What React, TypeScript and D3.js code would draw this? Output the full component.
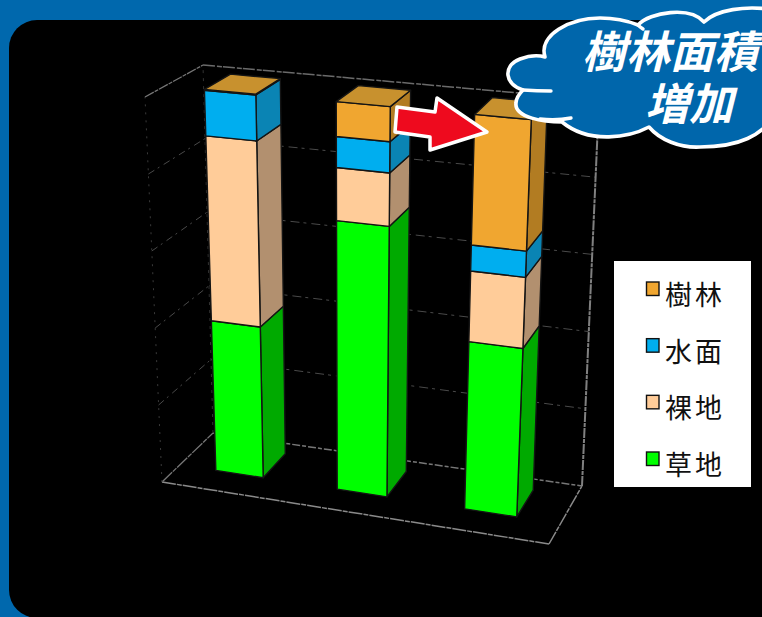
import React from "react";
import * as d3 from "d3";

// Land-cover share (%) for three survey periods, stacked bottom to top.
const periods = ["A", "B", "C"];
const grassland = [39.3, 69.3, 42.4];
const bareLand = [48.5, 13.7, 17.9];
const water = [12.0, 8.0, 6.6];
const forest = [0.2, 9.0, 33.1];
const valueTicks = [0, 20, 40, 60, 80, 100];

const legendNames = ["樹林", "水面", "裸地", "草地"];
const calloutLines = ["樹林面積の", "増加"];

const W = 762;
const H = 617;

type P = [number, number];

// Screen corners of the plot box: floor and ceiling, front and back.
const floorFL: P = [162, 482];
const floorFR: P = [549, 544];
const floorBL: P = [213, 433];
const floorBR: P = [582, 486];
const topFL: P = [145, 97];
const topFR: P = [568, 137];
const topBL: P = [203, 65];
const topBR: P = [599, 100];

const mix = (a: P, b: P, t: number): P => [a[0] + (b[0] - a[0]) * t, a[1] + (b[1] - a[1]) * t];

// Foreshortening along the width: columns further right read slightly wider.
const widen = (u: number) => u * (0.927 + 0.073 * u);

// u runs left to right, v front to back, w is height from 0 to 1.
const project = (rawU: number, v: number, w: number): P => {
  const u = widen(rawU);
  const lower = mix(mix(floorFL, floorFR, u), mix(floorBL, floorBR, u), v);
  const upper = mix(mix(topFL, topFR, u), mix(topBL, topBR, u), v);
  return mix(lower, upper, w);
};

const uScale = d3.scaleBand<string>().domain(periods).range([0.1012, 0.892]).paddingInner(0.604);
const wScale = d3.scaleLinear().domain([0, 100]).range([0, 1]);
const depthFront = 0.35;
const depthBack = 0.82;

const rows = periods.map((p, i) => ({
  period: p,
  grass: grassland[i],
  bare: bareLand[i],
  water: water[i],
  forest: forest[i],
}));
const seriesKeys = ["grass", "bare", "water", "forest"];
const stacked = d3.stack<any>().keys(seriesKeys)(rows);

const faceColors: Record<string, { front: string; side: string }> = {
  forest: { front: "#F0A630", side: "#B27C22" },
  water: { front: "#00AEEF", side: "#0A84B4" },
  bare: { front: "#FFCC99", side: "#B2906F" },
  grass: { front: "#00FF00", side: "#00AA00" },
};
const forestTop = "#C8912E";
const legendKeys = ["forest", "water", "bare", "grass"];

const closed = d3.line<P>().curve(d3.curveLinearClosed);
const open = d3.line<P>();

const Grid = () => {
  const lines: React.ReactNode[] = [];
  valueTicks.forEach((t) => {
    const w = wScale(t);
    if (t !== 0 && t !== 100) {
      lines.push(
        <path key={`b${t}`} d={open([project(0, 1, w), project(1, 1, w)])!} stroke="#4a4a4a" strokeWidth={1} strokeDasharray="9 4 3 5" fill="none" />,
        <path key={`l${t}`} d={open([project(0, 0, w), project(0, 1, w)])!} stroke="#4a4a4a" strokeWidth={1} strokeDasharray="7 4 2 5" fill="none" />
      );
    }
  });
  const frame = (k: string, a: P, b: P, color: string, width: number, dash?: string) => (
    <path key={k} d={open([a, b])!} stroke={color} strokeWidth={width} strokeDasharray={dash} fill="none" />
  );
  return (
    <g>
      {lines}
      {frame("f1", floorFL, floorFR, "#8a8a8a", 1.5, "14 1 5 1")}
      {frame("f2", floorFR, floorBR, "#8a8a8a", 1.5, "14 1 5 1")}
      {frame("f3", floorFL, floorBL, "#777", 1.3, "14 1 5 1")}
      {frame("f4", floorBL, floorBR, "#777", 1.5, "8 2 4 2")}
      {frame("t1", topBL, topBR, "#6a6a6a", 1.5, "12 2 5 1")}
      {frame("t2", topFL, topBL, "#777", 1.3, "10 1 4 1")}
      {frame("v1", floorBR, topBR, "#808080", 2, "10 1 4 1")}
      {frame("v2", floorBL, topBL, "#333", 1, "3 5")}
      {frame("v3", floorFL, topFL, "#3a3a3a", 1, "2 6")}
    </g>
  );
};

const Bars = () => (
  <g strokeLinejoin="round">
    {periods.map((p) => {
      const u0 = uScale(p)!;
      const u1 = u0 + uScale.bandwidth();
      return (
        <g key={p}>
          {stacked.map((layer, si) => {
            const [lo, hi] = layer[periods.indexOf(p)];
            const w0 = wScale(lo);
            const w1 = wScale(hi);
            const c = faceColors[layer.key];
            return (
              <g key={layer.key} stroke="#141414" strokeWidth={1.4}>
                <path
                  d={closed([project(u1, depthFront, w0), project(u1, depthBack, w0), project(u1, depthBack, w1), project(u1, depthFront, w1)])!}
                  fill={c.side}
                />
                <path
                  d={closed([project(u0, depthFront, w0), project(u1, depthFront, w0), project(u1, depthFront, w1), project(u0, depthFront, w1)])!}
                  fill={c.front}
                />
                {si === stacked.length - 1 && (
                  <path
                    d={closed([project(u0, depthFront, w1), project(u1, depthFront, w1), project(u1, depthBack, w1), project(u0, depthBack, w1)])!}
                    fill={forestTop}
                  />
                )}
              </g>
            );
          })}
        </g>
      );
    })}
  </g>
);

const Legend = () => {
  const rowY = d3.scalePoint<string>().domain(legendKeys).range([289, 459]);
  return (
    <g>
      <rect x={614} y={261} width={137} height={226} fill="#fff" />
      {legendKeys.map((k, i) => (
        <g key={k}>
          <rect x={646.5} y={rowY(k)! - 7} width={12.5} height={13.5} fill={faceColors[k].front} stroke="#111" strokeWidth={1.4} />
          <text
            x={665}
            y={rowY(k)! + 16}
            fontFamily="'Noto Sans CJK JP'"
            fontSize={27}
            letterSpacing={3}
            fill="#111"
          >
            {legendNames[i]}
          </text>
        </g>
      ))}
    </g>
  );
};

const Arrow = () => (
  <path
    d="M397 107 L435 112 L437 98 L487 132 L430 150 L430 137 L395 132 Z"
    fill="#EE0A1E"
    stroke="#fff"
    strokeWidth={3.5}
    strokeLinejoin="round"
  />
);

const Callout = () => {
  const outline =
    "M545 57 C538 35 570 18 600 18 C615 18 628 21 638 25 C650 12 690 6 704 22 C716 10 745 5 775 10 L775 115 C762 135 740 147 700 147 C680 148 660 140 649 127 C630 137 590 145 562 122 C545 122 514 118 516 103 C516 98 519 94 523 90 C505 85 502 66 520 59 C528 56 538 55 545 57 Z";
  return (
    <g>
      <path d={outline} fill="#0066AB" stroke="#fff" strokeWidth={3.6} strokeLinejoin="round" />
      <g stroke="#fff" strokeWidth={3.4} fill="none" strokeLinecap="round">
        <path d="M523 90 Q537 91 551 91" />
        <path d="M540 119 Q556 121 571 118" />
        <path d="M638 25 Q640 27 643 29" />
      </g>
      <g fontFamily="'Noto Sans CJK JP'" fontWeight={700} fontStyle="italic" fontSize={44} fill="#fff">
        <text x={582} y={68}>{calloutLines[0]}</text>
        <text x={645} y={120}>{calloutLines[1]}</text>
      </g>
    </g>
  );
};

export default function App() {
  return (
    <svg
      width={W}
      height={H}
      viewBox={`0 0 ${W} ${H}`}
      style={{ position: "absolute", left: 0, top: 0, display: "block" }}
    >
      <rect width={W} height={H} fill="#0068AD" />
      <rect x={9} y={20} width={W + 40} height={H - 19} rx={28} ry={28} fill="#000" />
      <Grid />
      <Bars />
      <Arrow />
      <Legend />
      <Callout />
    </svg>
  );
}
